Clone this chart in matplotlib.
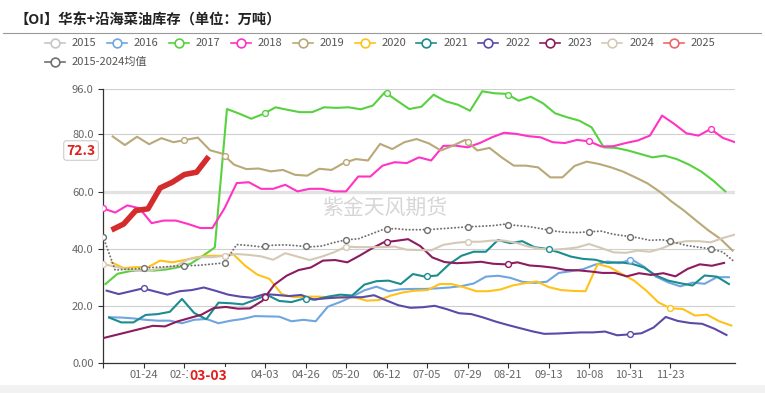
import numpy as np
import matplotlib.pyplot as plt
from matplotlib.lines import Line2D
from matplotlib.patches import Rectangle

plt.rcParams['font.family'] = ['Noto Sans CJK SC', 'DejaVu Sans']

W, H = 765, 393

# 数据（单位：万吨），按周排列；start 为该年份首个数据点所在的周序号
years = ['2015', '2016', '2017', '2018', '2019', '2020',
         '2021', '2022', '2023', '2024', '2025']

v2016 = [16.1, 16.0, 15.7, 15.2, 14.9, 14.9, 14.0, 15.2, 15.5, 14.0,
         14.9, 15.5, 16.5, 16.4, 16.3, 14.7, 15.2, 14.7, 19.8, 21.4,
         23.3, 25.5, 26.8, 25.2, 25.9, 26.0, 26.0, 26.2, 26.5, 27.0,
         27.9, 30.3, 30.6, 29.9, 28.5, 28.1, 28.5, 31.6, 32.2, 32.9,
         34.5, 35.6, 35.0, 36.3, 33.8, 30.3, 28.3, 26.9, 28.2, 27.8,
         30.1, 30.1]
v2017 = [27.7, 31.3, 32.2, 32.6, 32.4, 32.8, 33.6, 34.8, 37.5, 40.5,
         88.9, 87.3, 85.5, 87.2, 89.5, 88.6, 87.8, 87.8, 89.5, 89.3,
         89.5, 88.8, 90.1, 94.8, 91.8, 88.9, 89.7, 93.9, 91.6, 90.4,
         88.3, 95.1, 94.4, 94.2, 91.8, 93.2, 90.9, 87.4, 86.0, 84.8,
         82.5, 75.5, 75.3, 74.4, 73.2, 72.0, 72.6, 71.4, 69.5, 67.1,
         63.9, 60.1]
v2018 = [54.2, 52.7, 55.2, 54.2, 49.0, 49.9, 49.9, 48.7, 47.3, 47.3,
         54.2, 63.0, 63.3, 61.0, 61.0, 62.4, 60.1, 61.0, 61.0, 60.1,
         60.1, 65.3, 65.3, 69.1, 70.3, 70.0, 72.0, 70.9, 76.0, 76.1,
         75.5, 77.0, 79.0, 80.6, 80.2, 79.4, 79.0, 77.3, 77.0, 78.1,
         77.6, 75.8, 75.9, 77.0, 77.9, 79.6, 86.6, 83.7, 80.4, 79.6,
         81.9, 78.8, 77.3]
v2019 = [79.3, 76.3, 79.2, 76.6, 78.7, 77.3, 78.1, 78.9, 74.5, 73.3,
         69.4, 67.9, 68.1, 67.1, 67.6, 65.9, 65.6, 68.0, 67.6, 70.0,
         71.4, 70.9, 76.7, 74.9, 77.3, 78.4, 76.9, 74.4, 76.1, 78.1,
         74.4, 75.3, 72.0, 69.1, 69.1, 68.5, 65.0, 65.0, 69.0, 70.5,
         69.7, 68.5, 67.0, 65.0, 62.9, 60.0, 56.5, 53.4, 49.9, 46.5,
         43.5, 39.4]
v2020 = [35.3, 33.3, 33.6, 33.6, 35.9, 35.3, 36.1, 37.1, 37.6, 37.6,
         38.2, 34.1, 31.0, 29.5, 24.2, 23.1, 23.3, 23.3, 23.1, 23.1,
         23.1, 21.9, 22.1, 23.7, 24.8, 25.4, 25.6, 27.7, 27.7, 26.6,
         25.2, 25.2, 25.8, 27.2, 28.0, 28.6, 26.6, 25.6, 25.3, 25.2,
         34.7, 33.6, 31.2, 28.9, 25.4, 21.3, 19.2, 19.0, 16.7, 17.0,
         14.7, 13.2]
v2021 = [16.0, 14.3, 14.3, 16.9, 17.2, 18.0, 22.5, 17.6, 15.4, 21.2,
         21.0, 20.6, 22.2, 23.9, 21.8, 21.4, 22.6, 22.3, 23.3, 24.0,
         23.7, 27.5, 28.7, 28.9, 27.7, 31.2, 30.3, 30.7, 34.7, 37.6,
         39.0, 39.0, 43.1, 42.0, 42.7, 40.6, 40.0, 38.8, 37.3, 36.5,
         36.2, 35.1, 35.3, 34.8, 33.5, 30.7, 28.9, 28.0, 27.2, 30.7,
         30.3, 27.7]
v2022 = [25.4, 24.2, 25.2, 26.2, 25.1, 24.0, 25.2, 25.6, 26.5, 25.3,
         24.0, 23.3, 22.9, 24.2, 23.9, 23.5, 23.9, 22.3, 22.7, 23.0,
         23.1, 23.1, 23.8, 22.0, 20.3, 19.4, 19.6, 20.1, 18.9, 17.5,
         17.2, 16.0, 14.6, 13.4, 12.3, 11.2, 10.3, 10.4, 10.6, 10.8,
         10.8, 11.1, 9.8, 10.1, 10.5, 12.5, 16.2, 14.8, 14.1, 13.8,
         12.1, 9.9]
v2023 = [8.9, None, None, None, 13.1, 12.9, 14.6, 15.8, 17.0, 19.3,
         19.7, 19.1, 19.2, 21.8, 27.5, 30.6, 32.6, 33.5, 35.9, 36.1,
         35.3, 37.6, 40.1, 42.3, 42.8, 43.4, 41.0, 37.0, 35.4, 35.0,
         35.2, 35.5, 34.8, 34.6, 35.3, 34.2, 33.9, 33.4, 32.6, 32.5,
         32.1, 31.6, 31.6, 30.4, 31.5, 30.9, 31.5, 30.4, 33.0, 34.6,
         34.1, 35.1]
v2024 = [34.7, 33.8, 32.8, 32.3, 32.6, 33.3, 34.0, 36.3, 37.1, 37.1,
         37.6, 38.2, 37.9, 37.4, 36.2, 38.5, 37.3, 36.1, 37.3, 38.8,
         40.8, 40.6, 40.6, 40.6, 40.8, 39.7, 39.6, 39.5, 41.4, 42.1,
         42.5, 42.5, 42.9, 42.9, 42.1, 40.8, 40.0, 39.7, 40.0, 40.5,
         41.7, 40.3, 38.8, 38.6, 39.4, 39.0, 40.2, 42.0, 42.7, 42.7,
         42.3, 43.8, 45.0]
v2025 = [46.6, 48.7, 53.4, 54.0, 61.3, 63.3, 66.0, 66.8, 72.3]
v_avg = [44.3, 32.6, 32.9, 33.1, 33.5, 33.7, 34.0, 34.1, 34.3, 34.7,
         35.1, 41.5, 41.2, 40.7, 41.3, 41.4, 41.1, 40.7, 41.0, 42.2,
         43.2, 43.5, 45.1, 46.7, 47.1, 46.7, 46.7, 46.8, 47.1, 47.4,
         47.7, 47.9, 48.1, 48.6, 48.2, 47.8, 47.1, 46.3, 45.8, 45.7,
         46.0, 46.2, 45.1, 44.5, 43.9, 43.0, 43.2, 42.3, 41.2, 40.6,
         40.0, 38.9, 35.3]

starts = {'2016': 0.5, '2017': 0.2, '2018': 0.0, '2019': 0.8, '2020': 0.7,
          '2021': 0.5, '2022': 0.3, '2023': 0.1, '2024': 0.0, '2025': 0.7,
          'avg': 0.0}

tick_labels = ['', '01-24', '02-14', '', '04-03', '04-26', '05-20', '06-12',
               '07-05', '07-29', '08-21', '09-13', '10-08', '10-31', '11-23']
last_date = '03-03'

colors = {'2015': '#c6c6c6', '2016': '#6fa6df', '2017': '#58d13f',
          '2018': '#ff33c4', '2019': '#b9a878', '2020': '#ffc21a',
          '2021': '#1b8d90', '2022': '#5c4aa8', '2023': '#8c1b60',
          '2024': '#d5c9b5', '2025': '#d42c2c', 'avg': '#707070'}
legend_colors = dict(colors, **{'2025': '#ef6567'})

# 在刻度位置显示的空心点
marker_ticks = {'2016': [13], '2017': [4, 7, 10], '2018': [0, 12, 15],
                '2019': [2, 3, 6, 9], '2020': [14], '2021': [5, 8, 11],
                '2022': [1, 13], '2023': [4, 7, 10], '2024': [0, 3, 6, 9],
                'avg': list(range(16))}

series = {'2016': v2016, '2017': v2017, '2018': v2018, '2019': v2019,
          '2020': v2020, '2021': v2021, '2022': v2022, '2023': v2023,
          '2024': v2024, 'avg': v_avg, '2025': v2025}

fig = plt.figure(figsize=(W / 100, H / 100), dpi=100)
ax = fig.add_axes([103 / W, 1 - 363.3 / H, (735 - 103) / W, (363.3 - 88.7) / H])

step = 10 / 3
ticks = [k * step for k in range(len(tick_labels))]

for name, vals in series.items():
    y = np.array([np.nan if v is None else v for v in vals], dtype=float)
    x = starts[name] + np.arange(len(y))
    m = ~np.isnan(y)
    c = colors[name]
    if name == 'avg':
        ax.plot(x[m], y[m], color=c, lw=1.4, ls=(0, (0.1, 1.7)),
                dash_capstyle='round', zorder=4)
    elif name == '2025':
        ax.plot(x[m], y[m], color=c, lw=4.0, solid_capstyle='butt', zorder=6)
    else:
        ax.plot(x[m], y[m], color=c, lw=1.5, zorder=3)
    for k in marker_ticks.get(name, []):
        t = k * step
        ax.plot(t, np.interp(t, x[m], y[m]), 'o', ms=4.2, mfc='white',
                mec=c, mew=1.0, zorder=5)

ax.set_xlim(0, 52)
ax.set_ylim(0, 96)
ax.set_yticks([0, 20, 40, 60, 80, 96])
ax.set_yticklabels(['0.00', '20.0', '40.0', '60.0', '80.0', '96.0'])
ax.set_xticks(ticks)
ax.set_xticklabels(tick_labels)

for g in [20, 40, 80, 96]:
    ax.axhline(g, color='#cfcfcf', lw=0.8, zorder=0)
ax.axhline(60, color='#e2e2e2', lw=2.4, zorder=0)

for s in ['top', 'right']:
    ax.spines[s].set_visible(False)
for s in ['left', 'bottom']:
    ax.spines[s].set_color('#333333')
    ax.spines[s].set_linewidth(0.9)
ax.tick_params(axis='both', colors='#333333', labelcolor='#666666',
               labelsize=8, length=3.6, width=0.8)
ax.tick_params(axis='x', pad=1.5)
ax.tick_params(axis='y', pad=3.2)

# 最新值标签
x_last = starts['2025'] + len(v2025) - 1
ax.annotate(f'{v2025[-1]:.1f}', xy=(0, v2025[-1]),
            xycoords=('axes fraction', 'data'), xytext=(-15.8, 4.3),
            textcoords='offset points', ha='center', va='center',
            color='#e0201c', fontsize=10, fontweight='bold',
            bbox=dict(boxstyle='round,pad=0.2', fc='white', ec='#cccccc', lw=0.8),
            annotation_clip=False, zorder=10)
ax.annotate(last_date, xy=(x_last, 0), xytext=(0, -9.2),
            textcoords='offset points', ha='center', va='center',
            color='#e0201c', fontsize=10, fontweight='bold',
            bbox=dict(boxstyle='square,pad=0.15', fc='white', ec='none'),
            annotation_clip=False, zorder=10)

# 水印
ax.text(385 / W, 1 - 208 / H, '紫金天风期货', transform=fig.transFigure,
        fontsize=15, color='#d6d6d6', ha='center', va='center', zorder=1)

# 标题
fig.text(15 / W, 1 - 20 / H, '【OI】华东+沿海菜油库存（单位：万吨）',
         fontsize=10.3, fontweight='bold', color='#222222', va='center')
fig.add_artist(Line2D([3 / W, 761 / W], [1 - 33.3 / H] * 2,
                      color='#9a9a9a', lw=0.8))

# 图例
leg_names = years + ['2015-2024均值']
leg_keys = years + ['avg']
for i, (lab, key) in enumerate(zip(leg_names, leg_keys)):
    if i < 11:
        cx, cy = 55 + i * 61.9, 42.7
    else:
        cx, cy = 55, 62.3
    c = legend_colors[key]
    fig.add_artist(Line2D([(cx - 10) / W, (cx + 10) / W], [1 - cy / H] * 2,
                          color=c, lw=1.2))
    fig.add_artist(Line2D([cx / W], [1 - cy / H], marker='o', ms=6.3,
                          mfc='white', mec=c, mew=1.2))
    fig.text((cx + 17) / W, 1 - cy / H, lab, fontsize=8, color='#555555',
             va='center')

fig.patches.append(Rectangle((0, 0), 1, 8 / H, transform=fig.transFigure,
                             fc='#f2f2f2', ec='none'))

fig.savefig('out.png', dpi=100)
